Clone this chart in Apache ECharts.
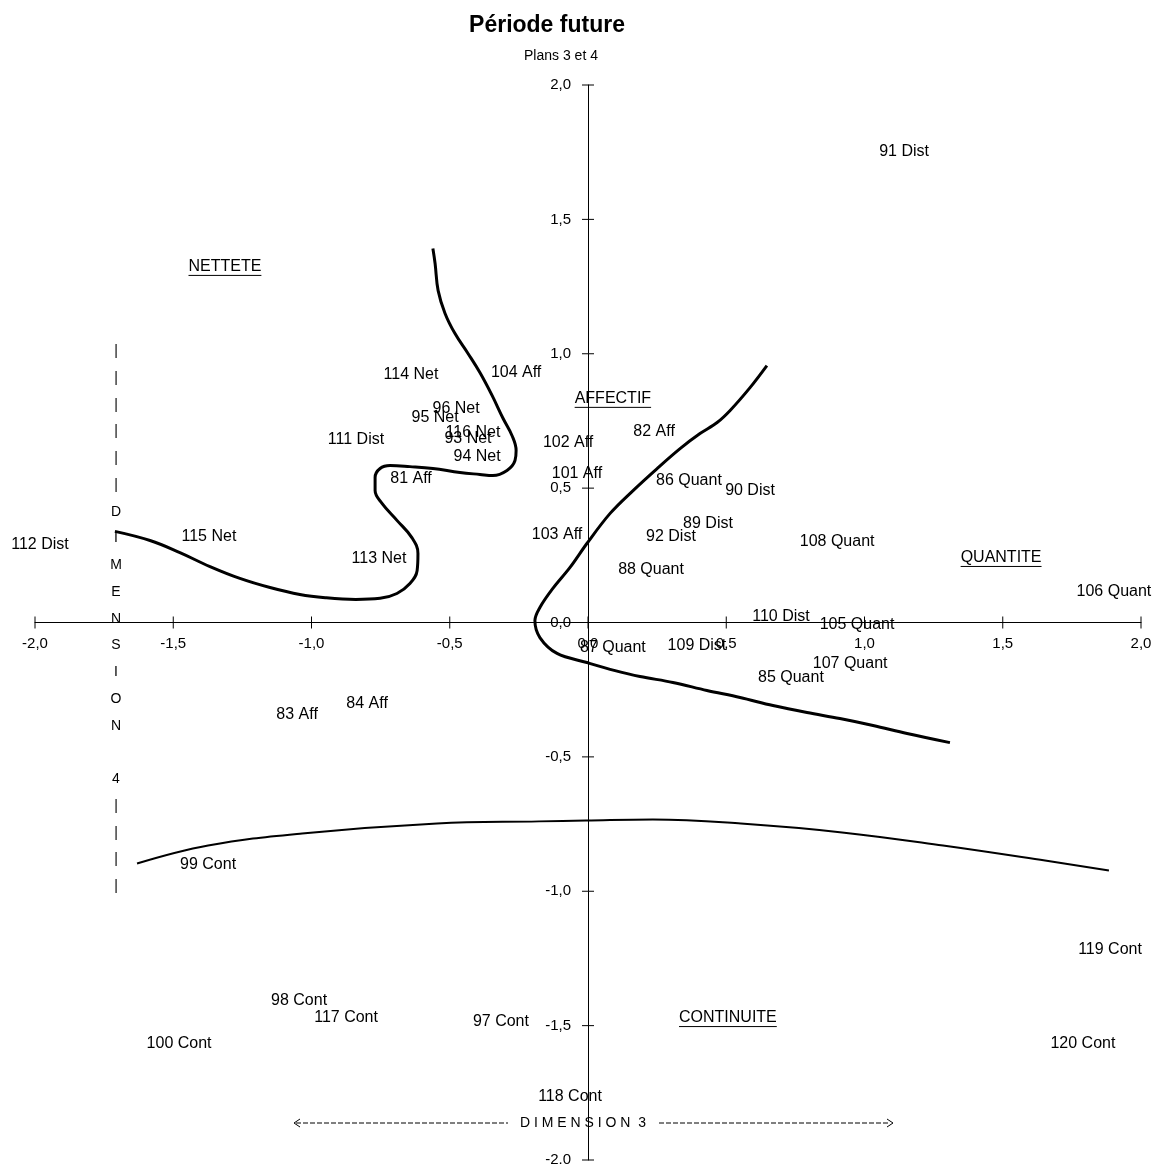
<!DOCTYPE html>
<html>
<head>
<meta charset="utf-8">
<script src="https://cdn.jsdelivr.net/npm/echarts@6/dist/echarts.min.js"></script>
<style>
html,body{margin:0;padding:0;background:#fff;}
#chart{width:1158px;height:1166px;}
</style>
</head>
<body>
<div id="chart"></div>
<script>
// ---- Data ----
const pointNames = ['91 Dist','114 Net','104 Aff','96 Net','95 Net','116 Net','93 Net','94 Net','111 Dist','81 Aff',
  '102 Aff','101 Aff','82 Aff','86 Quant','90 Dist','89 Dist','92 Dist','103 Aff','108 Quant','88 Quant',
  '112 Dist','115 Net','113 Net','106 Quant','110 Dist','105 Quant','87 Quant','109 Dist','107 Quant','85 Quant',
  '84 Aff','83 Aff','99 Cont','119 Cont','98 Cont','117 Cont','97 Cont','100 Cont','120 Cont','118 Cont'];
const pointX = [1.143,-0.640,-0.260,-0.477,-0.553,-0.416,-0.434,-0.401,-0.839,-0.640,
  -0.072,-0.040,0.239,0.365,0.586,0.434,0.300,-0.112,0.901,0.228,
  -1.982,-1.371,-0.756,1.902,0.698,0.973,0.090,0.394,0.948,0.734,
  -0.799,-1.052,-1.374,1.888,-1.045,-0.875,-0.315,-1.479,1.790,-0.065];
const pointY = [1.753,0.923,0.930,0.796,0.763,0.707,0.685,0.618,0.681,0.536,
  0.670,0.554,0.711,0.528,0.491,0.368,0.320,0.327,0.301,0.197,
  0.290,0.320,0.238,0.115,0.022,-0.007,-0.093,-0.086,-0.153,-0.205,
  -0.301,-0.342,-0.900,-1.217,-1.407,-1.470,-1.485,-1.567,-1.567,-1.764];

const groupNames = ['NETTETE','AFFECTIF','QUANTITE','CONTINUITE'];
const groupX = [-1.313, 0.090, 1.494, 0.506];
const groupY = [1.325, 0.834, 0.242, -1.470];

// Freehand curves
const netCurveX = [-0.561,-0.553,-0.542,-0.517,-0.481,-0.434,-0.391,-0.347,-0.307,-0.275,-0.260,-0.264,-0.293,-0.344,-0.391,-0.463,-0.561,-0.644,-0.716,-0.752,-0.770,-0.770,-0.745,-0.691,-0.637,-0.615,-0.618,-0.644,-0.691,-0.752,-0.840,-0.950,-1.042,-1.150,-1.259,-1.367,-1.476,-1.584,-1.711];
const netCurveY = [1.392,1.336,1.235,1.150,1.075,1.001,0.930,0.845,0.759,0.696,0.640,0.603,0.566,0.547,0.551,0.558,0.573,0.580,0.584,0.573,0.540,0.491,0.443,0.380,0.316,0.257,0.193,0.145,0.108,0.090,0.086,0.092,0.104,0.130,0.164,0.208,0.260,0.305,0.339];

const affCurveX = [0.647,0.586,0.514,0.467,0.405,0.333,0.250,0.163,0.080,-0.004,-0.065,-0.127,-0.174,-0.192,-0.174,-0.112,-0.004,0.098,0.188,0.307,0.430,0.550,0.669,0.792,0.911,1.031,1.154,1.309];
const affCurveY = [0.956,0.874,0.789,0.744,0.703,0.647,0.573,0.491,0.406,0.294,0.205,0.127,0.056,0.007,-0.056,-0.115,-0.149,-0.179,-0.201,-0.223,-0.253,-0.279,-0.309,-0.335,-0.357,-0.383,-0.413,-0.447];

const contCurveX = [-1.631,-1.374,-1.034,-0.546,-0.177,-0.007,0.235,0.553,0.919,1.284,1.653,1.884];
const contCurveY = [-0.897,-0.830,-0.785,-0.748,-0.740,-0.737,-0.733,-0.748,-0.781,-0.830,-0.886,-0.923];

// Axis ticks / labels
const axisMin = -2, axisMax = 2, axisStep = 0.5;
const tickValues = [-2, -1.5, -1, -0.5, 0, 0.5, 1, 1.5, 2];
const xTickLabels = ['-2,0','-1,5','-1,0','-0,5','0,0','0,5','1,0','1,5','2,0'];
const yTickLabels = ['-2.0','-1,5','-1,0','-0,5','0,0','0,5','1,0','1,5','2,0'];

// ---- Build chart ----
const FONT = 'Liberation Sans, Arial, sans-serif';
const zip = (xs, ys) => xs.map((x, i) => [x, ys[i]]);

const measureCtx = document.createElement('canvas').getContext('2d');
function textWidth(t, font) { measureCtx.font = font; return measureCtx.measureText(t).width; }

const chart = echarts.init(document.getElementById('chart'), null, {renderer: 'canvas'});

const TICK = 6;
const axisCommon = {
  type: 'value', min: axisMin, max: axisMax, interval: axisStep,
  splitLine: {show: false},
  axisLine: {show: true, onZero: true, lineStyle: {color: '#000', width: 1}},
  axisTick: {show: false},
  axisLabel: {show: false}
};

const catFont = '16px ' + FONT;
const tickFont = '15px ' + FONT;
const pointFont = '16px ' + FONT;

const option = {
  backgroundColor: '#fff',
  animation: false,
  title: [
    {text: 'Période future', left: 542, top: 9, textAlign: 'center',
     textStyle: {fontFamily: FONT, fontSize: 23, fontWeight: 'bold', color: '#000'}},
    {text: 'Plans 3 et 4', left: 556, top: 44, textAlign: 'center',
     textStyle: {fontFamily: FONT, fontSize: 14, fontWeight: 'normal', color: '#000'}}
  ],
  grid: {left: 35, right: 17, top: 85, bottom: 6, containLabel: false, outerBoundsMode: 'none'},
  xAxis: Object.assign({}, axisCommon),
  yAxis: Object.assign({}, axisCommon),
  graphic: [
    {type: 'text', x: 116, y: 338, z: 10,
     style: {text: ['|','|','|','|','|','|','D','I','M','E','N','S','I','O','N','','4','|','|','|','|'].join('\n'),
       font: '14px ' + FONT, fill: '#000', lineHeight: 26.75, align: 'center'}},
    {type: 'text', x: 583, y: 1123, z: 10,
     style: {text: 'D I M E N S I O N  3', font: '14px ' + FONT, fill: '#000', align: 'center', verticalAlign: 'middle'}},
    {type: 'line', shape: {x1: 296, y1: 1123, x2: 508, y2: 1123}, style: {stroke: '#000', lineWidth: 1, lineDash: [5, 2]}},
    {type: 'line', shape: {x1: 659, y1: 1123, x2: 890, y2: 1123}, style: {stroke: '#000', lineWidth: 1, lineDash: [5, 2]}},
    {type: 'polyline', shape: {points: [[300, 1119], [294, 1123], [300, 1127]]}, style: {stroke: '#000', fill: null, lineWidth: 1}},
    {type: 'polyline', shape: {points: [[887, 1119], [893, 1123], [887, 1127]]}, style: {stroke: '#000', fill: null, lineWidth: 1}}
  ],
  series: [
    // cross-shaped axis ticks and tick labels placed on the zero-crossing axes
    {type: 'custom', z: 2, silent: true, data: tickValues.map(v => [v]),
     renderItem: (params, api) => {
       const i = params.dataIndex;
       const v = api.value(0);
       const px = api.coord([v, 0]);
       const py = api.coord([0, v]);
       return {type: 'group', children: [
         {type: 'line', shape: {x1: px[0], y1: px[1] - TICK, x2: px[0], y2: px[1] + TICK}, style: {stroke: '#000', lineWidth: 1}},
         {type: 'line', shape: {x1: py[0] - TICK, y1: py[1], x2: py[0] + TICK, y2: py[1]}, style: {stroke: '#000', lineWidth: 1}},
         {type: 'text', x: px[0], y: px[1] + 21, style: {text: xTickLabels[i], font: tickFont, fill: '#000', align: 'center', verticalAlign: 'middle'}},
         {type: 'text', x: py[0] - 17, y: py[1], style: {text: yTickLabels[i], font: tickFont, fill: '#000', align: 'right', verticalAlign: 'middle'}}
       ]};
     }},
    {type: 'line', data: zip(netCurveX, netCurveY), smooth: 0.4, symbol: 'none',
     lineStyle: {color: '#000', width: 3}, z: 3},
    {type: 'line', data: zip(affCurveX, affCurveY), smooth: 0.35, symbol: 'none',
     lineStyle: {color: '#000', width: 3}, z: 3},
    {type: 'line', data: zip(contCurveX, contCurveY), smooth: 0.4, symbol: 'none',
     lineStyle: {color: '#000', width: 2}, z: 3},
    // point labels (text only, centred on each point)
    {type: 'custom', z: 5, silent: true, data: zip(pointX, pointY),
     renderItem: (params, api) => {
       const p = api.coord([api.value(0), api.value(1)]);
       return {type: 'text', x: p[0], y: p[1],
         style: {text: pointNames[params.dataIndex], font: pointFont, fill: '#000', align: 'center', verticalAlign: 'middle'}};
     }},
    // underlined group labels
    {type: 'custom', z: 6, silent: true, data: zip(groupX, groupY),
     renderItem: (params, api) => {
       const p = api.coord([api.value(0), api.value(1)]);
       const txt = groupNames[params.dataIndex];
       const w = textWidth(txt, catFont);
       return {type: 'group', children: [
         {type: 'text', x: p[0], y: p[1], style: {text: txt, font: catFont, fill: '#000', align: 'center', verticalAlign: 'middle'}},
         {type: 'line', shape: {x1: p[0] - w / 2, y1: p[1] + 9, x2: p[0] + w / 2, y2: p[1] + 9}, style: {stroke: '#000', lineWidth: 1}}
       ]};
     }}
  ]
};
chart.setOption(option);
</script>
</body>
</html>
